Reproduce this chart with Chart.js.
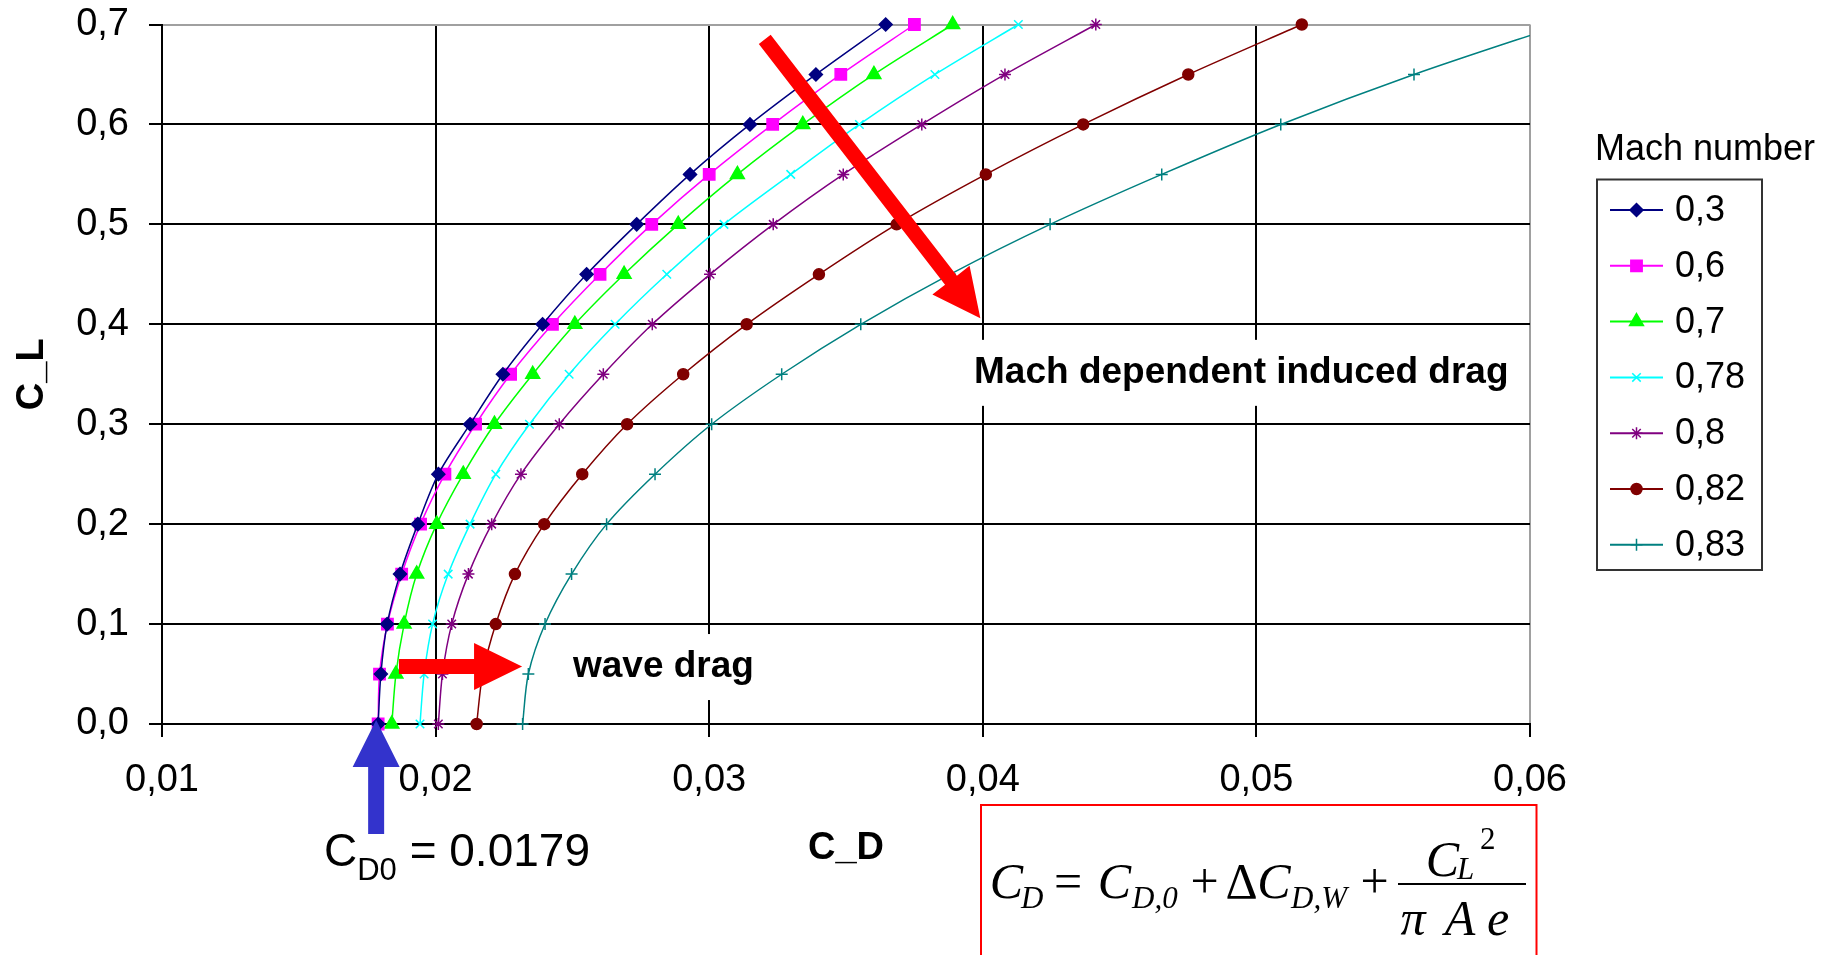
<!DOCTYPE html>
<html>
<head>
<meta charset="utf-8">
<script src="https://cdn.jsdelivr.net/npm/chart.js@4.4.1/dist/chart.umd.min.js"></script>
<style>
  html, body { margin: 0; padding: 0; background: #fff; }
  canvas { display: block; }
</style>
</head>
<body>
<canvas id="dragChart" width="1829" height="955"></canvas>
<script>
// Lift coefficient at every marker (same for all curves)
const liftCoeffs = [0, 0.05, 0.1, 0.15, 0.2, 0.25, 0.3, 0.35, 0.4, 0.45, 0.5, 0.55, 0.6, 0.65, 0.7];

// Mach numbers shown in the legend
const machNumbers = ['0,3', '0,6', '0,7', '0,78', '0,8', '0,82', '0,83'];

// Drag coefficient, one array per Mach number
const cdMach030 = [0.0179, 0.0180, 0.01823, 0.0187, 0.01935, 0.0201, 0.02126, 0.02246, 0.02391, 0.02552, 0.02735, 0.0293, 0.03149, 0.0339, 0.03645];
const cdMach060 = [0.0179, 0.01795, 0.01824, 0.01876, 0.01945, 0.02034, 0.02146, 0.02274, 0.02427, 0.02601, 0.0279, 0.0300, 0.03232, 0.03481, 0.0375];
const cdMach070 = [0.0184, 0.01855, 0.01885, 0.01931, 0.02004, 0.02101, 0.02215, 0.02355, 0.02509, 0.02689, 0.02887, 0.03103, 0.03342, 0.03602, 0.0389];
const cdMach078 = [0.01943, 0.01958, 0.01989, 0.02046, 0.02126, 0.0222, 0.02343, 0.02488, 0.02656, 0.02845, 0.03054, 0.03298, 0.03549, 0.03825, 0.0413];
const cdMach080 = [0.0201, 0.02025, 0.02059, 0.0212, 0.02205, 0.02312, 0.02452, 0.02613, 0.02792, 0.03003, 0.03234, 0.0349, 0.03777, 0.04081, 0.04413];
const cdMach082 = [0.0215, 0.02172, 0.0222, 0.0229, 0.02397, 0.02536, 0.0270, 0.02905, 0.03137, 0.03401, 0.03685, 0.04011, 0.04367, 0.04751, 0.05166];
const cdMach083 = [0.02318, 0.02339, 0.0240, 0.02497, 0.02625, 0.02802, 0.03009, 0.03265, 0.03554, 0.0388, 0.04246, 0.04654, 0.05089, 0.05576, 0.0612];

// Axis ticks
const xTickValues = [0.01, 0.02, 0.03, 0.04, 0.05, 0.06];
const xTickLabels = ['0,01', '0,02', '0,03', '0,04', '0,05', '0,06'];
const yTickValues = [0, 0.1, 0.2, 0.3, 0.4, 0.5, 0.6, 0.7];
const yTickLabels = ['0,0', '0,1', '0,2', '0,3', '0,4', '0,5', '0,6', '0,7'];

const cd0Value = 0.0179;

// Styling per curve
const seriesColors = ['#000080', '#ff00ff', '#00ff00', '#00ffff', '#800080', '#800000', '#008080'];
const seriesMarkers = ['rectRot', 'rect', 'triangle', 'crossRot', 'star', 'circle', 'cross'];
const markerSizes = [6.5, 8, 8, 6, 6, 5.5, 6];

const SANS = '"Liberation Sans", Arial, sans-serif';
const SERIF = '"Liberation Serif", "Times New Roman", serif';

const dragSeries = [cdMach030, cdMach060, cdMach070, cdMach078, cdMach080, cdMach082, cdMach083];

const datasets = dragSeries.map((cd, i) => ({
    label: machNumbers[i],
    data: cd.map((x, j) => ({ x: x, y: liftCoeffs[j] })),
    showLine: true,
    borderColor: seriesColors[i],
    backgroundColor: seriesColors[i],
    borderWidth: 1.5,
    tension: 0.3,
    pointStyle: seriesMarkers[i],
    pointRadius: markerSizes[i],
    pointHoverRadius: markerSizes[i],
    pointBorderWidth: 1.5,
    clip: { left: 20, top: 20, right: 0, bottom: 20 }
}));

// Annotations placed in data units (arrows and labels inside the plot)
const arrowNotes = [
    { from: [0.03203, 0.6852], to: [0.03991, 0.4061], color: '#ff0000' },
    { from: [0.01866, 0.0576], to: [0.02316, 0.0576], color: '#ff0000' }
];
const textNotes = [
    { text: 'wave drag', at: [0.02502, 0.057] },
    { text: 'Mach dependent induced drag', at: [0.03968, 0.3514] }
];

function drawArrow(ctx, x1, y1, x2, y2, shaft, headW, headL, color) {
    const dx = x2 - x1, dy = y2 - y1, len = Math.hypot(dx, dy);
    const ux = dx / len, uy = dy / len, px = -uy, py = ux;
    const bx = x2 - ux * headL, by = y2 - uy * headL;
    ctx.beginPath();
    ctx.moveTo(x1 + px * shaft / 2, y1 + py * shaft / 2);
    ctx.lineTo(bx + px * shaft / 2, by + py * shaft / 2);
    ctx.lineTo(bx + px * headW / 2, by + py * headW / 2);
    ctx.lineTo(x2, y2);
    ctx.lineTo(bx - px * headW / 2, by - py * headW / 2);
    ctx.lineTo(bx - px * shaft / 2, by - py * shaft / 2);
    ctx.lineTo(x1 - px * shaft / 2, y1 - py * shaft / 2);
    ctx.closePath();
    ctx.fillStyle = color;
    ctx.fill();
}

const notesPlugin = {
    id: 'notes',
    beforeDatasetsDraw(chart) {
        // white boxes behind the labels hide the grid
        const ctx = chart.ctx, xs = chart.scales.x, ys = chart.scales.y;
        ctx.save();
        ctx.font = 'bold 37px ' + SANS;
        textNotes.forEach(n => {
            const x = xs.getPixelForValue(n.at[0]);
            const y = ys.getPixelForValue(n.at[1]);
            const w = ctx.measureText(n.text).width;
            ctx.fillStyle = '#fff';
            ctx.fillRect(x - 8, y - 33, w + 16, 66);
        });
        ctx.restore();
    },
    afterDatasetsDraw(chart) {
        const ctx = chart.ctx, xs = chart.scales.x, ys = chart.scales.y;
        ctx.save();
        ctx.font = 'bold 37px ' + SANS;
        ctx.fillStyle = '#000';
        ctx.textBaseline = 'middle';
        textNotes.forEach(n => {
            ctx.fillText(n.text, xs.getPixelForValue(n.at[0]), ys.getPixelForValue(n.at[1]));
        });
        arrowNotes.forEach(a => {
            drawArrow(ctx,
                xs.getPixelForValue(a.from[0]), ys.getPixelForValue(a.from[1]),
                xs.getPixelForValue(a.to[0]), ys.getPixelForValue(a.to[1]),
                15, 47, 48, a.color);
        });
        ctx.restore();
    },
    afterDraw(chart) {
        const ctx = chart.ctx, xs = chart.scales.x;
        ctx.save();

        // blue arrow pointing at CD0
        const bx = xs.getPixelForValue(cd0Value) - 2;
        drawArrow(ctx, bx, 834, bx, 720, 16, 47, 47, '#3333cc');

        // CD0 = 0.0179
        ctx.fillStyle = '#000';
        ctx.textBaseline = 'alphabetic';
        ctx.textAlign = 'left';
        let tx = 324;
        ctx.font = '46px ' + SANS;
        ctx.fillText('C', tx, 866);
        tx += ctx.measureText('C').width;
        ctx.font = '31px ' + SANS;
        ctx.fillText('D0', tx, 880);
        tx += ctx.measureText('D0').width;
        ctx.font = '46px ' + SANS;
        ctx.fillText(' = ' + String(cd0Value), tx, 866);

        // formula box
        ctx.strokeStyle = '#ff0000';
        ctx.lineWidth = 2;
        ctx.strokeRect(981, 805, 555.5, 170);

        const it = s => 'italic ' + s + 'px ' + SERIF;
        const up = s => s + 'px ' + SERIF;
        const pieces = [
            ['C', 1006.5, 898, it(50), 'center'],
            ['D', 1021, 908, it(31), 'left'],
            ['=', 1068, 898, up(50), 'center'],
            ['C', 1114.5, 898, it(50), 'center'],
            ['D,0', 1132, 908, it(31), 'left'],
            ['+', 1204.5, 898, up(50), 'center'],
            ['\u0394', 1241.5, 898, up(50), 'center'],
            ['C', 1274, 898, it(50), 'center'],
            ['D,W', 1291, 908, it(31), 'left'],
            ['+', 1374.5, 898, up(50), 'center'],
            ['C', 1442.5, 876, it(50), 'center'],
            ['L', 1457, 879, it(31), 'left'],
            ['2', 1480, 849, up(31), 'left'],
            ['\u03c0', 1413, 935, it(50), 'center'],
            ['A', 1460, 935, it(50), 'center'],
            ['e', 1498, 935, it(50), 'center']
        ];
        pieces.forEach(p => {
            ctx.font = p[3];
            ctx.textAlign = p[4];
            ctx.fillText(p[0], p[1], p[2]);
        });
        ctx.fillRect(1398, 883, 128, 2);

        // legend
        ctx.textAlign = 'left';
        ctx.textBaseline = 'middle';
        ctx.font = '36px ' + SANS;
        ctx.fillText('Mach number', 1595, 150);
        ctx.strokeStyle = '#333';
        ctx.lineWidth = 2;
        ctx.strokeRect(1597, 179.5, 165, 390.5);
        chart.data.datasets.forEach((ds, i) => {
            const y = 210 + i * 55.8;
            ctx.strokeStyle = ds.borderColor;
            ctx.fillStyle = ds.backgroundColor;
            ctx.lineWidth = 2;
            ctx.beginPath();
            ctx.moveTo(1610, y);
            ctx.lineTo(1663, y);
            ctx.stroke();
            ctx.lineWidth = 1.5;
            Chart.helpers.drawPoint(ctx, {
                pointStyle: ds.pointStyle,
                radius: ds.pointRadius,
                rotation: 0,
                borderWidth: 1.5
            }, 1636.5, y);
            ctx.fillStyle = '#000';
            ctx.fillText(ds.label, 1675, y + 1);
        });

        ctx.restore();
    }
};

Chart.defaults.font.family = SANS;
Chart.defaults.color = '#000';

new Chart(document.getElementById('dragChart'), {
    type: 'scatter',
    data: { datasets: datasets },
    options: {
        responsive: false,
        animation: false,
        events: [],
        layout: { padding: { top: 24.5, right: 299, left: 0, bottom: 0 } },
        plugins: { legend: { display: false }, tooltip: { enabled: false } },
        scales: {
            x: {
                type: 'linear',
                min: 0.01,
                max: 0.06,
                afterBuildTicks: s => { s.ticks = xTickValues.map(v => ({ value: v })); },
                afterFit: s => { s.height = 231; },
                ticks: {
                    font: { size: 38 },
                    padding: 21,
                    maxRotation: 0,
                    autoSkip: false,
                    callback: (v, i) => xTickLabels[i]
                },
                grid: {
                    color: c => (c.index === xTickValues.length - 1 ? '#a0a0a0' : '#000'),
                    tickColor: '#000',
                    lineWidth: 2,
                    tickLength: 13
                },
                border: { color: '#000', width: 2 },
                title: {
                    display: true,
                    text: 'C_D',
                    font: { size: 38, weight: 'bold' },
                    padding: { top: 0, bottom: 84 }
                }
            },
            y: {
                type: 'linear',
                min: 0,
                max: 0.7,
                afterBuildTicks: s => { s.ticks = yTickValues.map(v => ({ value: v })); },
                afterFit: s => { s.width = 162; s.paddingTop = 0; s.paddingBottom = 0; },
                ticks: {
                    font: { size: 38 },
                    padding: 20,
                    autoSkip: false,
                    callback: (v, i) => yTickLabels[i]
                },
                grid: {
                    color: c => (c.index === yTickValues.length - 1 ? '#a0a0a0' : '#000'),
                    tickColor: '#000',
                    lineWidth: 2,
                    tickLength: 13
                },
                border: { color: '#000', width: 2 },
                title: {
                    display: true,
                    text: 'C_L',
                    font: { size: 38, weight: 'bold' },
                    padding: { top: 10, bottom: 0 }
                }
            }
        }
    },
    plugins: [notesPlugin]
});
</script>
</body>
</html>
